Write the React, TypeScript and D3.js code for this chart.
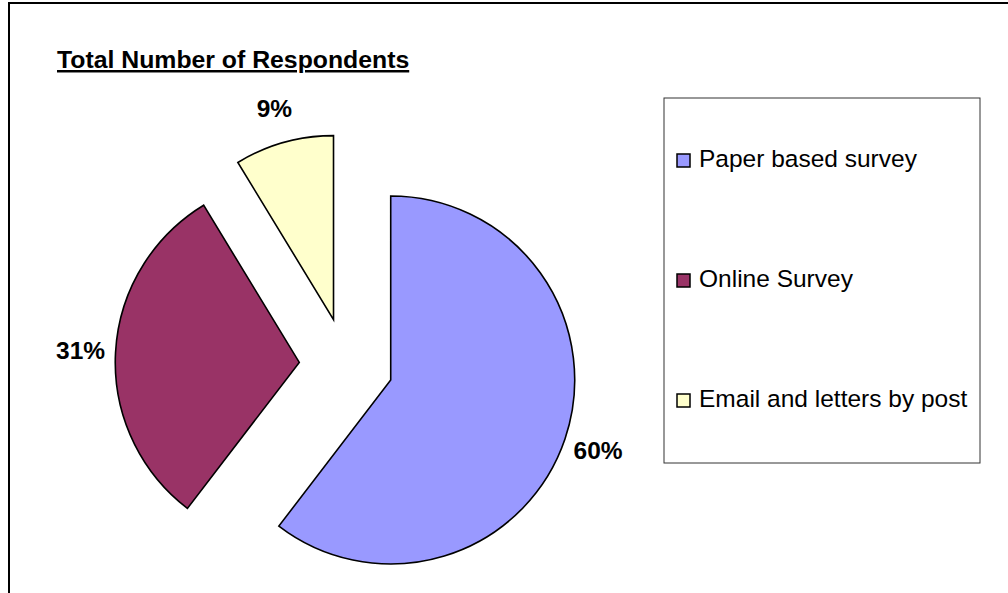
import React from "react";
import * as d3 from "d3";

const categories = ["Paper based survey", "Online Survey", "Email and letters by post"];
const values = [60.4, 30.9, 8.7];
const colors = ["#9999FF", "#993366", "#FFFFCC"];
const title = "Total Number of Respondents";

const W = 1008;
const H = 593;

export default function App() {
  const cx = 346.2;
  const cy = 364.9;
  const r = 184;
  const explode = 47;
  const labelR = 219;

  const total = d3.sum(values);
  const pie = d3
    .pie<number>()
    .sort(null)
    .startAngle(0)
    .endAngle(2 * Math.PI)(values);
  const arc = d3.arc<d3.PieArcDatum<number>>().innerRadius(0).outerRadius(r);

  const legendX = 664;
  const legendY = 98;
  const legendW = 316;
  const legendH = 365;
  const rowY = d3.scalePoint<string>().domain(categories).range([160.5, 400.5]);

  return (
    <div style={{ position: "absolute", left: 0, top: 0, width: W, height: H, overflow: "hidden", background: "#fff" }}>
      <svg width={W} height={H} style={{ display: "block" }} fontFamily="'Liberation Sans', Arial, sans-serif">
        <rect x={0} y={0} width={W} height={H} fill="#fff" />
        <rect x={9} y={3} width={W + 50} height={H + 50} fill="none" stroke="#000" strokeWidth={2} />
        <text x={57} y={68} fontSize={24.8} fontWeight="bold" fill="#000" textDecoration="underline">
          {title}
        </text>
        {pie.map((d, i) => {
          const mid = (d.startAngle + d.endAngle) / 2;
          const ox = cx + explode * Math.sin(mid);
          const oy = cy - explode * Math.cos(mid);
          const lx = ox + labelR * Math.sin(mid);
          const ly = oy - labelR * Math.cos(mid);
          return (
            <g key={categories[i]}>
              <path
                d={arc(d) || ""}
                transform={`translate(${ox},${oy})`}
                fill={colors[i]}
                stroke="#000"
                strokeWidth={1.6}
                strokeLinejoin="miter"
              />
              <text
                x={lx}
                y={ly + 8.5}
                textAnchor="middle"
                fontSize={24.5}
                fontWeight="bold"
                fill="#000"
              >
                {`${Math.round((values[i] / total) * 100)}%`}
              </text>
            </g>
          );
        })}
        <rect x={legendX} y={legendY} width={legendW} height={legendH} fill="#fff" stroke="#333" strokeWidth={1} />
        {categories.map((c, i) => {
          const y = rowY(c) as number;
          return (
            <g key={c}>
              <rect x={677} y={y - 6.5} width={13} height={13} fill={colors[i]} stroke="#000" strokeWidth={1.5} />
              <text x={699} y={y + 6} fontSize={24.5} fill="#000">
                {c}
              </text>
            </g>
          );
        })}
      </svg>
    </div>
  );
}
